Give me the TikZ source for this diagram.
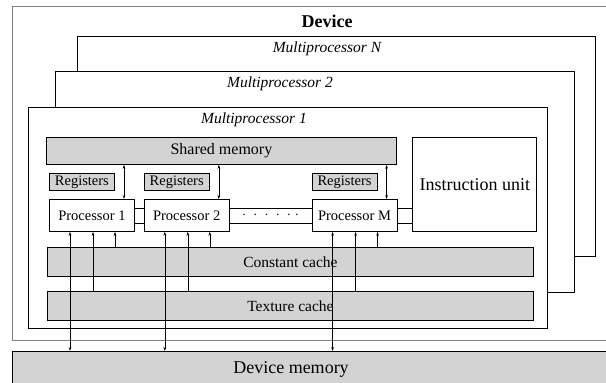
\documentclass[tikz,border=0pt]{standalone}
\usepackage{fontspec}
\setmainfont{Liberation Serif}
\usetikzlibrary{arrows.meta,positioning,calc}
\definecolor{memgrey}{HTML}{D3D3D3}
\definecolor{framegrey}{HTML}{808080}
\newcommand{\fsz}[1]{\fontsize{#1}{#1}\selectfont}

\begin{document}
\begin{tikzpicture}[x=1pt, y=-1pt, inner sep=0pt,
  frame/.style={draw=black, line width=0.8pt, fill=white, anchor=north west},
  mem/.style={draw=black, line width=0.8pt, fill=memgrey, anchor=north west},
  proc/.style={frame, minimum width=85pt, minimum height=32pt, font=\fsz{14.5}},
  regs/.style={mem, minimum width=65pt, minimum height=17pt, font=\fsz{14.5}},
  cache/.style={mem, minimum width=486pt, minimum height=29pt, font=\fsz{15.5}},
  mplabel/.style={font=\fsz{15.5}\itshape, anchor=base},
  bus/.style={line width=0.6pt},
  ar/.style={-{Stealth[length=4pt,width=2.6pt]}, line width=0.5pt},
  dar/.style={{Stealth[length=4pt,width=2.6pt]}-{Stealth[length=4pt,width=2.6pt]}, line width=0.5pt}]
  \useasboundingbox (0,0) rectangle (606,383);
  \clip (0,0) rectangle (606,383);

  % device outline, open to the right
  \node[frame, draw=framegrey, line width=1.3pt, minimum width=620pt, minimum height=334pt] (dev) at (12,6) {};
  \node[font=\fsz{18}\bfseries, anchor=base] (devlbl) at (327,27) {Device};

  % stack of multiprocessors, back to front
  \node[frame, minimum width=518pt, minimum height=220pt] (mpn) at (77,36) {};
  \node[mplabel] (mpnlbl) at (327,52) {Multiprocessor N};
  \node[frame, minimum width=519pt, minimum height=221pt] (mp2) at (55,71) {};
  \node[mplabel] (mp2lbl) at (280,87) {Multiprocessor 2};
  \node[frame, minimum width=519pt, minimum height=221pt] (mp1) at (28,107) {};
  \node[mplabel] (mp1lbl) at (254,123) {Multiprocessor 1};

  % inside multiprocessor 1
  \node[mem, minimum width=350pt, minimum height=27pt, font=\fsz{16}] (sm) at (46,137) {Shared memory};
  \node[proc] (p1) at (49,199) {Processor 1};
  \node[proc, right=9pt of p1] (p2) {Processor 2};
  \node[proc, right=82pt of p2] (pm) {Processor M};
  \node[frame, minimum width=124pt, minimum height=94pt, font=\fsz{18},
    right=15pt of pm.south east, anchor=south west] (iu) {Instruction unit};
  \foreach \p in {p1,p2,pm}
    \node[regs, above=8pt of \p.north west, anchor=south west] (r\p) {Registers};
  \node[cache] (cc) at (47,247) {Constant cache};
  \node[cache] (tc) at (47,291) {Texture cache};

  % device memory, runs off to the right
  \node[mem, minimum width=620pt, minimum height=60pt] (dmem) at (12,351) {};
  \node[font=\fsz{18}, anchor=base] (dmemlbl) at (291,373) {Device memory};

  % buses between processors
  \foreach \a/\b in {p1/p2,p2/pm,pm/iu}{
    \draw[bus] ([yshift=7.5pt]\a.east) -- ([yshift=7.5pt]\a.east -| \b.west);
    \draw[bus] ([yshift=-7.5pt]\a.east) -- ([yshift=-7.5pt]\a.east -| \b.west);
  }
  \node[font=\fsz{14}] (dots) at ($(p2.east)!0.5!(pm.west)$)
    {$\cdot\hspace{4pt}\cdot\hspace{4pt}\cdot\hspace{4pt}\cdot\hspace{4pt}\cdot\hspace{4pt}\cdot$};

  % memory paths
  \foreach \p in {p1,p2,pm}{
    \draw[dar] ([xshift=21pt]\p.south west) -- ([xshift=21pt]\p.south west |- dmem.north);
    \draw[ar] ([xshift=44pt]\p.south west |- tc.north) -- ([xshift=44pt]\p.south west);
    \draw[ar] ([xshift=66pt]\p.south west |- cc.north) -- ([xshift=66pt]\p.south west);
    \draw[dar] ([xshift=75pt]\p.north west) -- ([xshift=75pt]\p.north west |- sm.south);
  }
\end{tikzpicture}
\end{document}
